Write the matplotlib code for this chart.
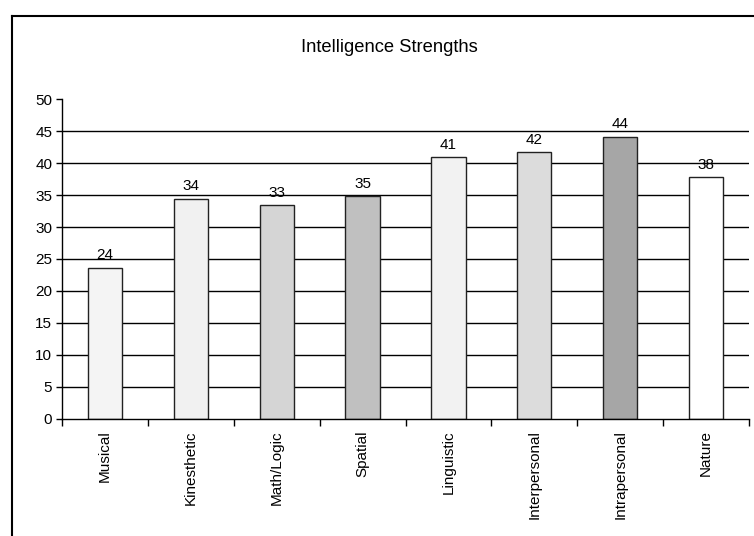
import matplotlib
matplotlib.use('Agg')
import matplotlib.pyplot as plt
from matplotlib.lines import Line2D
import numpy as np

# Data
categories = ['Musical', 'Kinesthetic', 'Math/Logic', 'Spatial',
              'Linguistic', 'Interpersonal', 'Intrapersonal', 'Nature']
strengths = [23.6, 34.4, 33.4, 34.8, 40.9, 41.7, 44.1, 37.8]
bar_colors = ['#f4f4f4', '#f1f1f1', '#d5d5d5', '#c0c0c0',
              '#f2f2f2', '#dcdcdc', '#a6a6a6', '#ffffff']
y_ticks = list(range(0, 55, 5))

plt.rcParams['font.family'] = ['Liberation Sans', 'DejaVu Sans']

fig = plt.figure(figsize=(7.54, 5.36), dpi=100)
ax = fig.add_axes([62 / 754, 117 / 536, 687 / 754, 320 / 536])

x = np.arange(len(categories))

# horizontal gridlines (not at 0 or 50)
for yv in y_ticks[1:-1]:
    ax.axhline(yv, color='black', lw=1.0, zorder=1)

bars = ax.bar(x, strengths, width=0.4, color=bar_colors,
              edgecolor='#222222', linewidth=1.0, zorder=2)
ax.bar_label(bars, fmt='%.0f', padding=4, fontsize=11)

ax.set_xlim(-0.5, len(categories) - 0.5)
ax.set_ylim(0, 50)
ax.set_yticks(y_ticks)
ax.tick_params(axis='y', direction='out', length=4, width=1, labelsize=11, pad=3)

ax.set_xticks(x)
ax.set_xticklabels(categories, rotation=90, fontsize=11)
ax.tick_params(axis='x', which='major', length=0, pad=8)
ax.set_xticks(np.arange(-0.5, len(categories), 1.0), minor=True)
ax.tick_params(axis='x', which='minor', direction='out', length=5, width=1)

for side in ['top', 'right']:
    ax.spines[side].set_visible(False)
for side in ['left', 'bottom']:
    ax.spines[side].set_linewidth(1.0)
    ax.spines[side].set_color('black')

fig.text(389 / 754, 1 - 47 / 536, 'Intelligence Strengths',
         ha='center', va='center', fontsize=13.2)

# chart-area border (left and top edges visible in the crop)
fig.add_artist(Line2D([12 / 754, 12 / 754], [0, 1 - 15.5 / 536],
                      transform=fig.transFigure, color='black', lw=1.5))
fig.add_artist(Line2D([12 / 754, 1], [1 - 15.5 / 536, 1 - 15.5 / 536],
                      transform=fig.transFigure, color='black', lw=1.5))

fig.savefig('out.png', dpi=100)
